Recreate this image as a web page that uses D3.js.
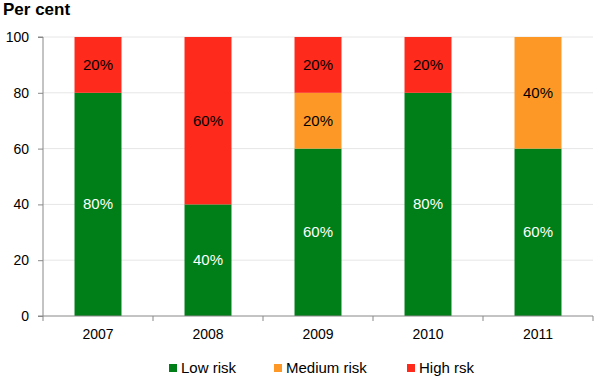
<!DOCTYPE html>
<html>
<head>
<meta charset="utf-8">
<script src="https://cdn.jsdelivr.net/npm/d3@7"></script>
<style>
  body { margin: 0; background: #fff; }
  text { font-family: "Liberation Sans", Arial, sans-serif; }
</style>
</head>
<body>
<svg id="chart" width="600" height="387"></svg>
<script>
// DATA
var years = ["2007", "2008", "2009", "2010", "2011"];
var lowRisk = [80, 40, 60, 80, 60];
var mediumRisk = [0, 0, 20, 0, 40];
var highRisk = [20, 60, 20, 20, 0];
var seriesNames = ["Low risk", "Medium risk", "High rsk"];
var yTicks = [0, 20, 40, 60, 80, 100];

var colors = ["#007f18", "#fd9826", "#fe2a1c"];
var labelColors = ["#fff", "#000", "#000"];

var svg = d3.select("#chart");

// plot area (note: "top" is a reserved window property)
var plotLeft = 43, plotRight = 593, plotTop = 37, plotBottom = 316;

var x = d3.scaleBand()
    .domain(years)
    .range([plotLeft, plotRight])
    .paddingInner(0.573)
    .paddingOuter(0.2865);

var y = d3.scaleLinear()
    .domain([0, 100])
    .range([plotBottom, plotTop]);

// gridlines
svg.append("g")
    .selectAll("line")
    .data(yTicks.filter(function(d) { return d > 0; }))
    .enter().append("line")
    .attr("x1", plotLeft)
    .attr("x2", plotRight)
    .attr("y1", function(d) { return y(d); })
    .attr("y2", function(d) { return y(d); })
    .attr("stroke", "#e6e6e6")
    .attr("stroke-width", 1);

// stacked bars
var rows = years.map(function(yr, i) {
    return { year: yr, low: lowRisk[i], medium: mediumRisk[i], high: highRisk[i] };
});
var stack = d3.stack().keys(["low", "medium", "high"]);
var layers = stack(rows);

layers.forEach(function(layer, li) {
    var g = svg.append("g");
    g.selectAll("rect")
        .data(layer)
        .enter().append("rect")
        .attr("x", function(d) { return x(d.data.year); })
        .attr("width", x.bandwidth())
        .attr("y", function(d) { return y(d[1]); })
        .attr("height", function(d) { return y(d[0]) - y(d[1]); })
        .attr("fill", colors[li]);

    g.selectAll("text")
        .data(layer.filter(function(d) { return d[1] - d[0] > 0; }))
        .enter().append("text")
        .attr("x", function(d) { return x(d.data.year) + x.bandwidth() / 2; })
        .attr("y", function(d) { return (y(d[0]) + y(d[1])) / 2 + 5; })
        .attr("text-anchor", "middle")
        .style("font-size", "15px")
        .attr("fill", labelColors[li])
        .text(function(d) { return (d[1] - d[0]) + "%"; });
});

// y axis
var yAxis = d3.axisLeft(y)
    .tickValues(yTicks)
    .tickSize(5)
    .tickPadding(9);
var yg = svg.append("g")
    .attr("transform", "translate(" + plotLeft + ",0)")
    .call(yAxis);
yg.select(".domain").attr("stroke", "#888").attr("d", "M-5," + plotTop + "H0V" + plotBottom);
yg.selectAll(".tick line").attr("stroke", "#888");
yg.selectAll(".tick text")
    .style("font-size", "14px")
    .attr("fill", "#000")
    .attr("font-family", "Liberation Sans, Arial, sans-serif");

// x axis
var xg = svg.append("g")
    .attr("transform", "translate(0," + plotBottom + ")");
xg.append("line")
    .attr("x1", plotLeft - 5)
    .attr("x2", plotRight)
    .attr("stroke", "#888");
var step = x.step();
xg.selectAll(".xtick")
    .data(d3.range(years.length + 1))
    .enter().append("line")
    .attr("class", "xtick")
    .attr("x1", function(i) { return plotLeft + i * step; })
    .attr("x2", function(i) { return plotLeft + i * step; })
    .attr("y1", 0)
    .attr("y2", 5)
    .attr("stroke", "#888");
xg.selectAll(".xlabel")
    .data(years)
    .enter().append("text")
    .attr("class", "xlabel")
    .attr("x", function(d) { return x(d) + x.bandwidth() / 2; })
    .attr("y", 23)
    .attr("text-anchor", "middle")
    .style("font-size", "14px")
    .text(function(d) { return d; });

// axis title
svg.append("text")
    .attr("x", 3)
    .attr("y", 15)
    .style("font-size", "17px")
    .style("font-weight", "bold")
    .text("Per cent");

// legend
var legendX = [169, 274, 407];
var lg = svg.append("g").selectAll("g")
    .data(seriesNames)
    .enter().append("g")
    .attr("transform", function(d, i) { return "translate(" + legendX[i] + ",364)"; });
lg.append("rect")
    .attr("width", 8)
    .attr("height", 8)
    .attr("fill", function(d, i) { return colors[i]; });
lg.append("text")
    .attr("x", 12)
    .attr("y", 9)
    .style("font-size", "15px")
    .text(function(d) { return d; });
</script>
</body>
</html>
